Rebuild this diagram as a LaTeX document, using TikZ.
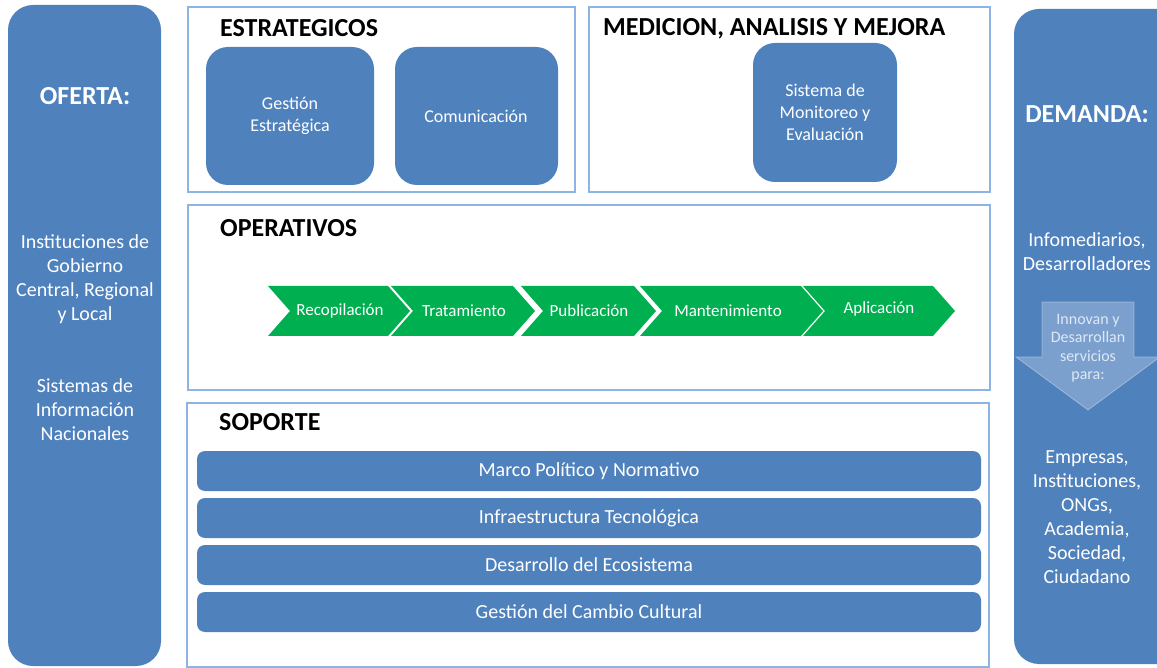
\documentclass[tikz,border=0pt]{standalone}
\usepackage{fontspec}
\setmainfont{Carlito}
\definecolor{blueM}{HTML}{4F81BD}
\definecolor{frameblue}{HTML}{8EB4E3}
\definecolor{chevgreen}{HTML}{00B050}
\definecolor{arrowtext}{RGB}{222,232,244}
\begin{document}
\begin{tikzpicture}[x=1pt,y=-1pt,
  panel/.style={fill=blueM, rounded corners=25pt},
  frame/.style={draw=frameblue, line width=2.5pt, fill=white},
  bluebox/.style={fill=blueM, rounded corners=22pt},
  bar/.style={fill=blueM, rounded corners=8pt},
  chev/.style={fill=chevgreen},
  titletxt/.style={font=\fontsize{26}{30}\selectfont\bfseries, text=black, anchor=west, inner sep=0pt},
  paneltitle/.style={font=\fontsize{26}{30}\selectfont\bfseries, text=white},
  paneltxt/.style={font=\fontsize{20}{24}\selectfont, text=white, align=center},
  boxtxt/.style={font=\fontsize{18}{22}\selectfont, text=white, align=center},
  chevtxt/.style={font=\fontsize{17}{20}\selectfont, text=white},
  bartxt/.style={font=\fontsize{20}{24}\selectfont, text=white},
  arrtxt/.style={font=\fontsize{16}{18.5}\selectfont, text=arrowtext, align=center}
]
\useasboundingbox (0,0) rectangle (1157,668);
\fill[white] (0,0) rectangle (1157,668);

% side panels
\path[panel] (8,5) rectangle (161,666);
\path[panel] (1014,9) rectangle (1182,664);
\fill[white] (1157,0) rectangle (1190,668);

\node[paneltitle] (oferta) at (85,96) {OFERTA:};
\node[paneltxt] (inst) at (85,279) {Instituciones de\\Gobierno\\Central, Regional\\y Local};
\node[paneltxt] (sist) at (85,410) {Sistemas de\\Información\\Nacionales};

\node[paneltitle] (demanda) at (1087,114) {DEMANDA:};
\node[paneltxt] (info) at (1087,252) {Infomediarios,\\Desarrolladores};
\path[fill=white, fill opacity=0.25, draw=white, draw opacity=0.35, line width=0.8pt]
  (1042,302) -- (1134,302) -- (1134,357) -- (1160,357) -- (1088,410) -- (1016,357) -- (1042,357) -- cycle;
\node[arrtxt] (innovan) at (1088,348) {Innovan y\\Desarrollan\\servicios\\para:};
\node[paneltxt] (emp) at (1087,517) {Empresas,\\Instituciones,\\ONGs,\\Academia,\\Sociedad,\\Ciudadano};

% frames
\path[frame] (188,7) rectangle (575,192);
\path[frame] (589,7) rectangle (990,192);
\path[frame] (188,205) rectangle (990,390);
\path[frame] (187,403) rectangle (989,667);

\node[titletxt] (estr) at (220,28) {ESTRATEGICOS};
\node[titletxt] (medi) at (603,29) {MEDICION, ANALISIS Y MEJORA};
\node[titletxt] (oper) at (220,228) {OPERATIVOS};
\node[titletxt] (sopo) at (219,422) {SOPORTE};

% strategic boxes
\path[bluebox] (206,47) rectangle (374,185);
\node[boxtxt] (gest) at (290,116) {Gestión\\Estratégica};
\path[bluebox] (395,47) rectangle (558,185);
\node[boxtxt] (comu) at (476,116) {Comunicación};
\path[bluebox] (753,43) rectangle (897,182);
\node[boxtxt] (moni) at (825,112) {Sistema de\\Monitoreo y\\Evaluación};

% chevrons
\foreach \L/\R in {268/388, 391/513, 521/634, 640/801, 803/933}{
  \path[chev] (\L,286) -- (\R,286) -- (\R+22,311) -- (\R,336) -- (\L,336) -- (\L+22,311) -- cycle;
}
\node[chevtxt] (c1) at (340,311) {Recopilación};
\node[chevtxt] (c2) at (464,311) {Tratamiento};
\node[chevtxt] (c3) at (589,311) {Publicación};
\node[chevtxt] (c4) at (728,311) {Mantenimiento};
\node[chevtxt] (c5) at (879,309) {Aplicación};

% support bars
\path[bar] (197,451) rectangle (981,491);
\node[bartxt] (b1) at (589,471) {Marco Político y Normativo};
\path[bar] (197,498) rectangle (981,538);
\node[bartxt] (b2) at (589,518) {Infraestructura Tecnológica};
\path[bar] (197,545) rectangle (981,585);
\node[bartxt] (b3) at (589,565) {Desarrollo del Ecosistema};
\path[bar] (197,592) rectangle (981,632);
\node[bartxt] (b4) at (589,612) {Gestión del Cambio Cultural};
\end{tikzpicture}
\end{document}
